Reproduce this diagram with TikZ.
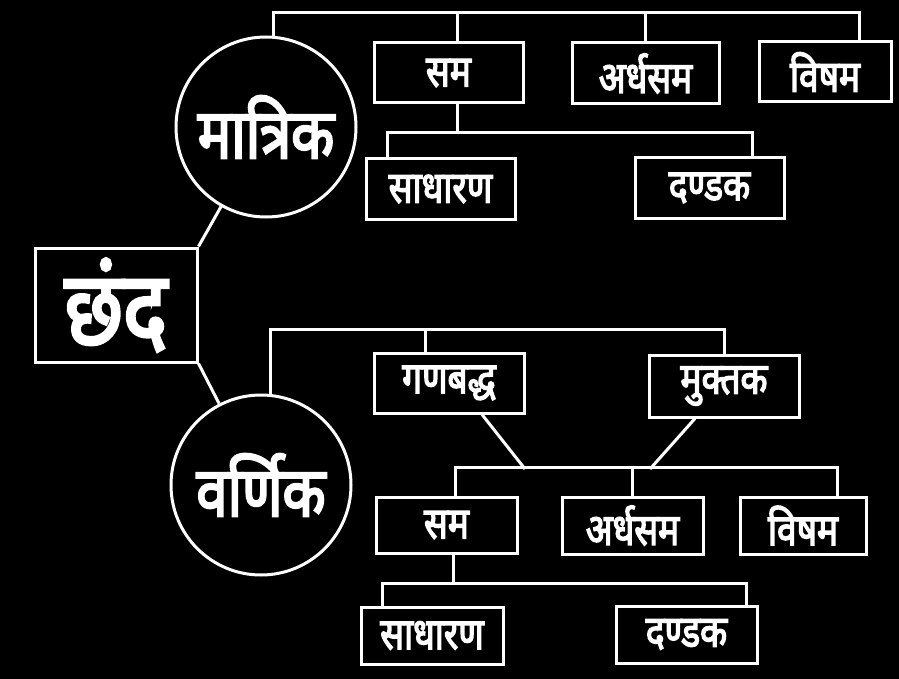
\documentclass[tikz,border=0pt]{standalone}
\usepackage{fontspec}
\newfontfamily\devfont[Script=Devanagari,FakeStretch=0.8,FakeBold=3]{Noto Sans}
\usetikzlibrary{positioning}
\tikzstyle{box}=[rectangle, draw=white, line width=3pt, text=white, inner sep=0pt,
    font=\devfont\bfseries\fontsize{44}{44}\selectfont]
\tikzstyle{ring}=[circle, draw=white, line width=3pt, text=white, inner sep=0pt,
    minimum size=180pt, font=\devfont\bfseries\fontsize{70}{70}\selectfont]
\tikzstyle{link}=[draw=white, line width=3pt]
\newcommand{\boxnode}{\node[box]}
\newcommand{\ringnode}{\node[ring]}

\begin{document}
\begin{tikzpicture}[x=1pt, y=-1pt]
\fill[black] (0,0) rectangle (899,679);
\useasboundingbox (0,0) rectangle (899,679);
% root and the two kinds
\boxnode[minimum width=162pt, minimum height=114pt, font=\devfont\bfseries\fontsize{104}{104}\selectfont] (chhand) at (116,305) {छंद};
\ringnode (matrik) at (266,127) {मात्रिक};
\ringnode (varnik) at (261,485) {वर्णिक};
% matrik side
\boxnode[minimum width=149pt, minimum height=60pt] (sam1) at (448.5,73) {सम};
\boxnode[minimum width=147pt, minimum height=61pt] (ardh1) at (645.5,73.5) {अर्धसम};
\boxnode[minimum width=132pt, minimum height=60pt] (visham1) at (825,72) {विषम};
\boxnode[minimum width=149pt, minimum height=60pt] (sadh1) at (440.5,189) {साधारण};
\boxnode[minimum width=149pt, minimum height=60pt] (dand1) at (709.5,188) {दण्डक};
% varnik side
\boxnode[minimum width=150pt, minimum height=60pt] (gan) at (449,383) {गणबद्ध};
\boxnode[minimum width=150pt, minimum height=62pt] (mukt) at (724,386) {मुक्तक};
\boxnode[minimum width=141pt, minimum height=56pt] (sam2) at (446.5,525) {सम};
\boxnode[minimum width=141pt, minimum height=57pt] (ardh2) at (632.5,525.5) {अर्धसम};
\boxnode[minimum width=126pt, minimum height=57pt] (visham2) at (803,525.5) {विषम};
\boxnode[minimum width=142pt, minimum height=57pt] (sadh2) at (432,635.5) {साधारण};
\boxnode[minimum width=141pt, minimum height=57pt] (dand2) at (686.5,634.5) {दण्डक};

\coordinate (j1) at (525,469);
\coordinate (j2) at (650,469);

\draw[link] (chhand.north east) -- (matrik);
\draw[link] (chhand.south east) -- (varnik);
% rails
\draw[link] (matrik.85) -- ++(0,-23) -| ([xshift=34pt]visham1.north);
\draw[link] ([xshift=8.5pt]sam1.north) -- ++(0,-28);
\draw[link] (ardh1.north) -- ++(0,-28);
\draw[link] ([xshift=8.5pt]sam1.south) -- ++(0,28) coordinate (r2);
\draw[link] ([xshift=-53.5pt]sadh1.north) |- (r2) -| ([xshift=42.5pt]dand1.north);

\draw[link] (varnik.84) -- ++(0,-65) -| (mukt.north);
\draw[link] ([xshift=-24pt]gan.north) -- ++(0,-23);
\draw[link] ([xshift=33pt]gan.south) -- (j1);
\draw[link] ([xshift=-29pt]mukt.south) -- (j2);
\draw[link] ([xshift=8.5pt]sam2.north) -- ++(0,-28) -| ([xshift=34pt]visham2.north);
\draw[link] (ardh2.north) -- ++(0,-28);
\draw[link] ([xshift=6.5pt]sam2.south) -- ++(0,29) coordinate (r4);
\draw[link] ([xshift=-50pt]sadh2.north) |- (r4) -| ([xshift=59.5pt]dand2.north);
\end{tikzpicture}
\end{document}
